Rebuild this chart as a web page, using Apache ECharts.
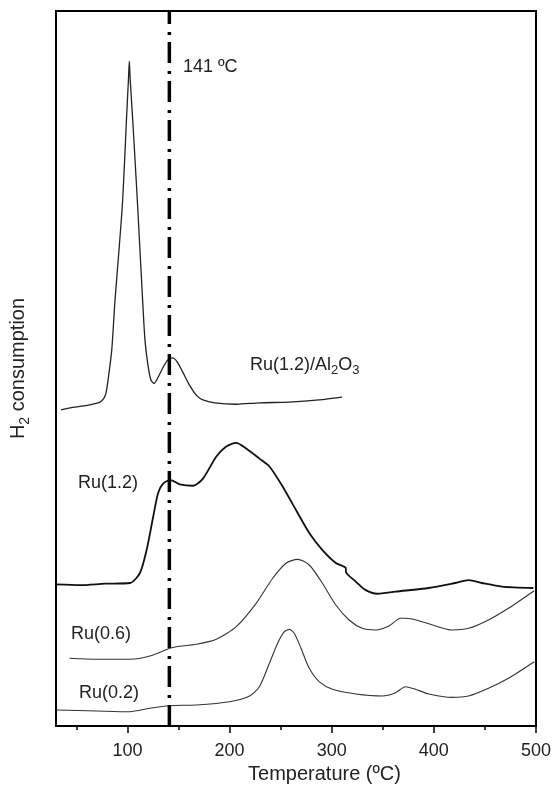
<!DOCTYPE html>
<html><head><meta charset="utf-8">
<script src="https://cdn.jsdelivr.net/npm/echarts@6/dist/echarts.min.js"></script>
<style>html,body{margin:0;padding:0;background:#fff}#c{width:554px;height:791px}</style>
</head><body><div id="c"></div>
<script>
const FONT = '"Liberation Sans", Arial, Helvetica, sans-serif';

// Axis ticks
const xTicks = [100, 200, 300, 400, 500];
const xMinorTicks = [50, 150, 250, 350, 450];

// Reference temperature line
const refTemp = 141;
const refLabel = '141 ºC';

// Ru(1.2)/Al2O3
const tempRuAl = [34.9,43.9,58.6,73.2,77.1,79.0,81.0,84.6,87.8,91.7,95.3,99.0,100.9,101.8,102.7,105.1,108.5,109.6,112.2,114.8,117.1,120.0,122.9,126.1,129.7,134.6,139.5,144.1,148.3,154.1,161.0,167.8,173.9,185.3,206.5,229.2,258.5,287.7,310.1];
const valRuAl  = [44.2,44.5,44.8,45.3,45.9,46.6,48.4,52.6,59.6,66.6,73.6,84.8,90.3,93.0,90.3,84.8,76.4,73.6,66.6,59.6,54.0,50.5,48.4,47.9,48.7,50.1,51.2,51.5,51.0,49.5,47.6,46.2,45.6,45.2,45.0,45.2,45.3,45.6,46.0];

// Ru(1.2)
const tempRu12 = [30.3,53.7,78.1,102.4,112.2,118.7,125.2,130.0,134.9,142.1,151.2,164.2,173.9,187.0,196.7,206.5,216.2,229.2,239.0,251.9,265.0,278.0,290.9,304.0,313.7,314.0,323.5,333.3,344.6,362.5,395.0,421.0,434.0,447.0,466.5,497.4];
const valRu12  = [19.8,19.7,19.9,20.0,21.4,24.6,29.3,32.6,33.9,34.4,33.8,33.6,34.6,37.7,39.1,39.6,38.8,37.4,36.3,33.5,30.2,27.0,24.6,22.8,22.1,21.5,20.2,19.0,18.5,18.8,19.3,20.0,20.4,20.0,19.5,19.3];

// Ru(0.6)
const tempRu06 = [43.2,70.0,102.4,121.9,141.4,148.0,167.5,187.0,206.5,226.0,242.2,255.2,266.6,278.0,290.9,304.0,317.0,329.9,343.0,356.0,367.4,372.3,385.2,401.5,417.7,434.0,453.5,473.0,498.3];
const valRu06  = [9.47,9.33,9.33,9.79,10.87,11.09,11.43,12.13,13.89,17.16,20.66,22.76,23.31,22.52,19.96,16.92,14.83,13.66,13.43,13.99,15.06,15.06,14.73,13.99,13.43,13.66,14.83,16.46,18.92];

// Ru(0.2)
const tempRu02 = [30.3,70.0,102.4,121.9,141.4,167.5,200.0,219.5,229.2,239.0,247.0,253.6,258.5,263.3,269.9,278.0,287.7,300.7,323.5,349.5,362.5,372.3,382.0,395.0,417.7,434.0,453.5,473.0,498.3];
const valRu02  = [2.24,2.10,2.00,2.48,2.84,2.94,3.40,4.20,5.50,8.77,11.57,13.19,13.52,12.97,10.87,8.07,6.20,5.13,4.48,4.20,4.66,5.50,5.13,4.48,4.01,4.20,5.27,6.67,8.99];

const zip = (xs, ys) => xs.map((x, i) => [x, ys[i]]);

const chart = echarts.init(document.getElementById('c'), null, {renderer: 'canvas'});

const curve = (name, xs, ys, color, width) => ({
  name, type: 'line', data: zip(xs, ys), showSymbol: false, symbol: 'none',
  smooth: 0.25, lineStyle: {color, width}, z: 3, animation: false
});

const txt = (left, top, text, rich) => ({
  type: 'text', left, top,
  style: {text, fill: '#222', font: '18px ' + FONT, fontSize: 18, fontFamily: FONT, rich}
});

const subRich = {
  a: {fontSize: 18, fontFamily: FONT, color: '#222', lineHeight: 24, verticalAlign: 'middle'},
  s: {fontSize: 13, fontFamily: FONT, color: '#222', lineHeight: 24, verticalAlign: 'bottom'}
};

chart.setOption({
  animation: false,
  backgroundColor: '#fff',
  grid: {left: 55, right: 16, top: 11, bottom: 65, show: true, borderColor: '#000', borderWidth: 2, containLabel: false},
  xAxis: [{
    type: 'value', min: 30, max: 500,
    axisLine: {show: true, lineStyle: {color: '#000', width: 2}},
    axisTick: {show: true, customValues: xTicks, length: 7, inside: false, lineStyle: {color: '#000', width: 1.5}},
    axisLabel: {customValues: xTicks, fontSize: 18, fontFamily: FONT, color: '#222', margin: 16},
    splitLine: {show: false},
    name: 'Temperature (ºC)', nameLocation: 'middle', nameGap: 37,
    nameTextStyle: {fontSize: 20, fontFamily: FONT, color: '#222', padding: [0, 0, 0, 57]}
  }, {
    type: 'value', min: 30, max: 500, position: 'bottom',
    axisLine: {show: false},
    axisTick: {show: true, customValues: xMinorTicks, length: 4, lineStyle: {color: '#000', width: 1.5}},
    axisLabel: {show: false}, splitLine: {show: false}
  }],
  yAxis: {
    type: 'value', min: 0, max: 100,
    axisLine: {show: true, lineStyle: {color: '#000', width: 2}},
    axisTick: {show: false}, axisLabel: {show: false}, splitLine: {show: false},
    name: '{a|H}{s|2}{a| consumption}', nameLocation: 'middle', nameGap: 24, nameRotate: 90,
    nameTextStyle: {
      fontSize: 20, fontFamily: FONT, color: '#222',
      rich: {
        a: {fontSize: 20, fontFamily: FONT, color: '#222', lineHeight: 28, verticalAlign: 'middle'},
        s: {fontSize: 14, fontFamily: FONT, color: '#222', lineHeight: 28, verticalAlign: 'bottom'}
      }
    }
  },
  series: [
    curve('Ru(1.2)/Al2O3', tempRuAl, valRuAl, '#222', 1.3),
    curve('Ru(1.2)', tempRu12, valRu12, '#111', 1.8),
    curve('Ru(0.6)', tempRu06, valRu06, '#333', 1.1),
    curve('Ru(0.2)', tempRu02, valRu02, '#333', 1.1),
    {
      name: 'ref', type: 'line', data: [[refTemp, 0], [refTemp, 100]],
      showSymbol: false, symbol: 'none', z: 4,
      lineStyle: {color: '#000', width: 3.5, type: [21, 7, 3, 8]}
    }
  ],
  graphic: [
    txt(183, 58, refLabel),
    {type: 'text', left: 250, top: 356, style: {text: '{a|Ru(1.2)/Al}{s|2}{a|O}{s|3}', rich: subRich, fontFamily: FONT, fill: '#222'}},
    txt(78, 474, 'Ru(1.2)'),
    txt(71, 625, 'Ru(0.6)'),
    txt(79, 684, 'Ru(0.2)')
  ]
});
</script>
</body></html>
